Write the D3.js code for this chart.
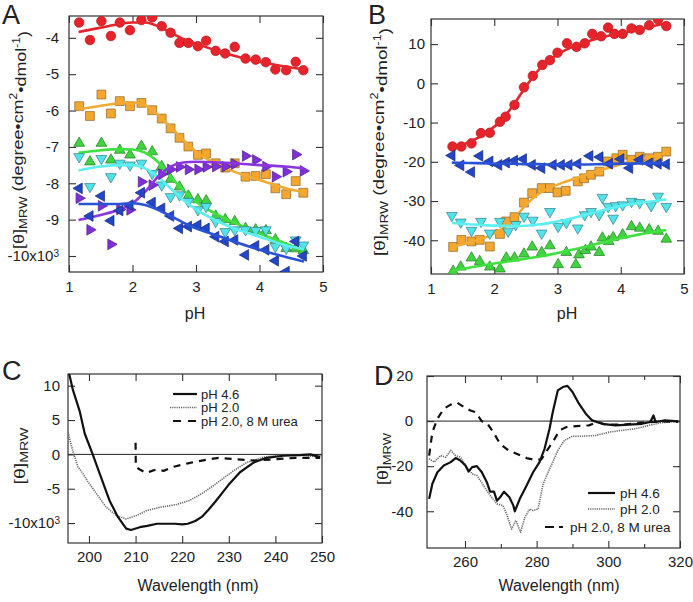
<!DOCTYPE html>
<html>
<head>
<meta charset="utf-8">
<script src="https://cdn.jsdelivr.net/npm/d3@7"></script>
<style>
  body { margin: 0; background: #fff; }
  svg text { font-family: "Liberation Sans", Arial, sans-serif; fill: #222; }
</style>
</head>
<body>
<svg id="fig" width="693" height="602"></svg>
<script>
/* ---------- Panel A: far-UV signal vs pH ---------- */
var phA = [1.16, 1.33, 1.51, 1.66, 1.80, 1.96, 2.14, 2.31, 2.46, 2.60, 2.74, 2.88,
           3.03, 3.16, 3.31, 3.46, 3.61, 3.78, 3.94, 4.10, 4.25, 4.42, 4.57, 4.69];
var aRed    = [-3.58, -4.06, -3.54, -3.95, -3.58, -3.79, -3.51, -3.44, -3.68, -3.86, -4.14, -4.14,
               -4.23, -4.08, -4.36, -4.43, -4.25, -4.57, -4.60, -4.67, -4.87, -4.89, -4.66, -4.89];
var aOrange = [-5.88, -6.15, -5.56, -6.08, -5.74, -5.88, -5.79, -5.99, -6.22, -6.49, -6.75, -6.99,
               -7.22, -7.18, -7.45, -7.57, -7.45, -7.82, -7.80, -7.75, -8.14, -8.30, -7.94, -8.26];
var aGreen  = [-6.90, -7.41, -6.90, -7.36, -7.09, -7.22, -6.98, -7.13, -7.54, -7.89, -8.10, -8.35,
               -8.45, -8.48, -8.90, -9.00, -9.05, -9.24, -9.28, -9.30, -9.55, -9.79, -9.80, -9.85];
var aCyan   = [-7.27, -8.09, -7.32, -7.82, -7.45, -7.50, -7.45, -7.73, -8.05, -8.37, -8.32, -8.50,
               -8.73, -8.64, -9.05, -9.33, -9.28, -9.28, -9.30, -9.28, -9.74, -9.79, -9.56, -9.70];
var aPurple = [-8.41, -9.28, -8.62, -9.68, -8.72, -8.73, -7.96, -8.05, -7.75, -7.62, -7.55, -7.62,
               -7.62, -7.55, -7.54, -7.54, -7.47, -7.25, -7.36, -7.54, -7.82, -7.68, -7.21, -7.66];
var aBlue   = [-8.14, -8.90, -8.35, -9.03, -8.75, -8.60, -8.26, -8.53, -8.69, -8.90, -9.24, -9.19,
               -9.15, -9.24, -9.47, -9.60, -9.56, -9.97, -9.72, -9.83, -10.13, -10.43, -9.60, -10.00];

var fitPhA = [1.15, 1.5, 1.8, 2.0, 2.2, 2.4, 2.6, 2.8, 3.0, 3.3, 3.6, 4.0, 4.4, 4.7];
var aRedFit    = [-3.84, -3.72, -3.62, -3.58, -3.58, -3.68, -3.86, -4.03, -4.16, -4.34, -4.49, -4.66, -4.79, -4.87];
var aOrangeFit = [-5.97, -5.87, -5.80, -5.78, -5.85, -6.12, -6.45, -6.81, -7.13, -7.45, -7.68, -7.91, -8.13, -8.25];
var aGreenFit  = [-7.16, -7.09, -7.06, -7.07, -7.16, -7.41, -7.82, -8.19, -8.51, -8.83, -9.08, -9.38, -9.65, -9.85];
var aCyanFit   = [-7.65, -7.54, -7.50, -7.50, -7.59, -7.82, -8.14, -8.46, -8.72, -9.01, -9.24, -9.47, -9.70, -9.82];
var aPurpleFit = [-9.01, -8.87, -8.72, -8.55, -8.23, -7.82, -7.54, -7.43, -7.41, -7.42, -7.45, -7.50, -7.54, -7.59];
var aBlueFit   = [-8.57, -8.57, -8.57, -8.55, -8.60, -8.73, -8.90, -9.08, -9.24, -9.42, -9.60, -9.83, -10.02, -10.15];

/* ---------- Panel B: near-UV signal vs pH ---------- */
var bRedPh = [1.34, 1.48, 1.64, 1.79, 1.93, 2.09, 2.18, 2.32, 2.47, 2.61, 2.76, 2.88, 3.00,
              3.15, 3.30, 3.43, 3.55, 3.69, 3.80, 3.90, 4.03, 4.17, 4.30, 4.45, 4.59, 4.72];
var bRed   = [-16.1, -16.1, -15.3, -12.7, -12.6, -9.8, -8.5, -5.5, -1.0, 1.9, 4.7, 5.9, 7.8,
              10.2, 9.3, 10.2, 12.6, 12.0, 14.2, 12.6, 12.6, 14.0, 13.6, 14.8, 16.3, 14.6];
var bBluePh = [1.33, 1.47, 1.64, 1.77, 1.93, 2.07, 2.19, 2.32, 2.46, 2.60, 2.75, 2.93,
               3.06, 3.18, 3.32, 3.51, 3.67, 3.82, 4.00, 4.14, 4.30, 4.45, 4.59, 4.72];
var bBlue   = [-18.4, -20.9, -22.6, -18.5, -19.9, -20.8, -20.2, -19.7, -19.3, -20.8, -21.6, -20.8,
               -20.8, -20.8, -20.5, -18.5, -18.8, -20.5, -19.3, -21.6, -19.5, -20.4, -20.5, -20.6];
var bOrangePh = [1.35, 1.48, 1.64, 1.77, 1.93, 2.09, 2.19, 2.32, 2.47, 2.60, 2.75, 2.88, 3.00,
                 3.13, 3.32, 3.42, 3.53, 3.66, 3.80, 3.93, 4.03, 4.17, 4.30, 4.45, 4.59, 4.72];
var bOrange   = [-41.7, -39.9, -40.3, -39.9, -41.6, -38.4, -35.2, -34.1, -30.4, -28.0, -26.7, -26.7, -27.8,
                 -27.4, -25.0, -24.2, -23.3, -22.5, -19.9, -19.1, -18.2, -19.5, -18.7, -19.1, -18.7, -17.4];
var bCyanPh = [1.33, 1.47, 1.64, 1.79, 1.93, 2.09, 2.22, 2.34, 2.47, 2.61, 2.75, 2.88, 3.01, 3.14,
               3.32, 3.43, 3.53, 3.66, 3.71, 3.80, 3.88, 3.92, 4.03, 4.17, 4.30, 4.48, 4.59, 4.72];
var bCyan   = [-33.7, -35.4, -37.5, -35.2, -38.2, -35.2, -37.7, -36.0, -33.9, -34.9, -38.2, -32.7, -36.5, -35.5,
               -36.9, -33.5, -32.7, -33.5, -29.1, -31.4, -34.4, -31.2, -31.0, -30.1, -30.4, -31.2, -28.8, -31.4];
var bGreenPh = [1.35, 1.47, 1.64, 1.77, 1.93, 2.09, 2.19, 2.32, 2.47, 2.60, 2.75, 2.88, 3.01, 3.14,
                3.29, 3.34, 3.44, 3.53, 3.66, 3.71, 3.81, 3.88, 4.03, 4.17, 4.30, 4.45, 4.59, 4.72];
var bGreen   = [-47.9, -46.8, -44.5, -45.4, -46.8, -47.3, -44.5, -44.5, -43.5, -41.7, -43.1, -41.4, -46.2, -43.1,
                -46.2, -43.7, -42.6, -41.7, -43.1, -39.4, -40.3, -39.3, -38.6, -36.5, -36.9, -37.3, -37.7, -39.7];

var fitPhB = [1.33, 1.6, 1.9, 2.1, 2.3, 2.5, 2.7, 2.9, 3.1, 3.4, 3.7, 4.0, 4.3, 4.72];
var bRedFit    = [-16.5, -15.0, -12.3, -9.6, -5.6, -0.8, 3.4, 6.3, 8.3, 10.3, 11.7, 12.8, 13.8, 15.4];
var bBlueFit   = [-20.2, -20.3, -20.4, -20.5, -20.5, -20.6, -20.6, -20.7, -20.7, -20.7, -20.6, -20.5, -20.4, -20.3];
var bOrangeFit = [-41.7, -40.6, -39.0, -37.3, -34.7, -31.0, -28.2, -26.5, -25.2, -23.6, -22.0, -20.6, -19.3, -17.8];
var bCyanFit   = [-35.6, -35.9, -36.2, -36.3, -36.4, -36.3, -36.0, -35.5, -34.9, -33.7, -32.4, -31.3, -30.5, -29.6];
var bGreenFit  = [-47.8, -47.0, -46.2, -45.7, -45.2, -44.7, -44.2, -43.6, -42.9, -41.8, -40.6, -39.5, -38.5, -37.4];

/* ---------- Panel C: far-UV spectra ---------- */
var cWl46 = [195.5, 196.5, 198.0, 199.1, 200.8, 202.3, 204.4, 206.2, 208.0, 209.0, 210.9, 212.5, 214.6, 216.5,
             218.4, 220.0, 221.2, 222.8, 224.2, 225.6, 227.1, 228.6, 230.0, 232.4, 235.3, 238.1, 241.7, 245.3, 247.5, 249.6];
var c46   = [12.5, 9.5, 6.3, 3.0, 0.0, -2.8, -6.7, -9.1, -10.8, -11.0, -10.6, -10.4, -10.1, -10.1,
             -10.1, -10.2, -10.1, -9.7, -9.1, -8.1, -6.9, -5.6, -4.4, -2.6, -1.2, -0.5, -0.2, -0.1, 0.0, -0.4];
var cWl20 = [195.5, 195.9, 196.7, 197.6, 198.7, 199.8, 201.6, 203.7, 205.9, 208.0, 210.2, 212.3, 215.2,
             218.8, 221.6, 224.5, 227.4, 231.0, 233.8, 237.4, 241.7, 245.3, 249.6];
var c20   = [3.2, 2.1, 0.1, -1.8, -2.8, -4.0, -5.7, -7.7, -8.9, -9.4, -8.9, -8.2, -7.7,
             -7.3, -6.7, -5.6, -4.2, -2.4, -1.2, -0.4, -0.1, -0.1, -0.4];
var cWlUrea = [210.0, 210.05, 210.9, 212.3, 213.5, 214.5, 216.0, 218.2, 221.2, 224.2, 227.8, 231.4, 235.7, 240.1, 244.4, 249.6];
var cUrea   = [1.7, -1.8, -2.2, -2.7, -2.4, -2.2, -2.4, -1.8, -1.3, -0.9, -0.5, -0.7, -0.9, -0.7, -0.5, -0.5];

/* ---------- Panel D: near-UV spectra ---------- */
var dWl46 = [250.0, 250.9, 252.3, 254.1, 256.0, 257.4, 258.7, 260.1, 261.0, 262.0, 263.3, 264.7, 266.1, 267.0,
             268.1, 268.9, 269.8, 270.9, 272.4, 273.5, 273.9, 275.3, 277.2, 279.0, 280.8, 282.2, 283.6, 284.5,
             285.9, 287.3, 288.6, 290.0, 291.8, 293.7, 295.5, 298.3, 302.0, 305.7, 309.4, 311.7, 312.6, 313.2, 315.8, 319.5];
var d46   = [-34.5, -27.8, -22.7, -19.7, -18.2, -16.4, -17.5, -19.7, -22.4, -20.4, -20.0, -22.7, -27.1, -31.3,
             -31.3, -35.3, -33.8, -31.3, -33.8, -37.5, -40.0, -34.5, -28.6, -22.7, -18.2, -12.3, -3.4, 4.0,
             13.6, 15.1, 15.6, 12.9, 7.7, 3.3, 0.3, -1.2, -1.9, -1.6, -1.2, -0.4, 2.5, -0.4, 0.3, -0.1];
var dWl20 = [250.0, 251.4, 253.2, 254.6, 256.0, 257.4, 258.7, 260.6, 262.0, 263.3, 265.2, 267.0, 268.9, 270.6,
             271.6, 273.0, 274.2, 275.5, 276.7, 278.1, 279.0, 280.4, 281.8, 283.2, 284.5, 285.9, 287.7, 290.0,
             292.8, 296.5, 300.2, 303.9, 307.6, 311.3, 314.9, 319.5];
var d20   = [-16.7, -18.2, -15.3, -16.0, -13.0, -15.3, -16.0, -20.4, -23.4, -24.1, -28.6, -33.0, -36.7, -37.5,
             -41.2, -47.9, -44.1, -49.3, -42.7, -39.0, -39.7, -39.0, -27.9, -22.7, -18.2, -13.0, -8.6, -6.7,
             -6.7, -6.4, -4.9, -4.1, -3.4, -1.9, -0.7, -0.1];
var dWlUrea = [250.0, 250.9, 252.3, 254.1, 256.0, 257.8, 259.7, 261.5, 262.9, 264.7, 266.1, 267.9, 269.8, 272.1,
               274.4, 277.2, 279.5, 281.3, 283.2, 284.5, 286.4, 288.2, 291.0, 294.6, 297.0, 299.3, 303.9, 309.4, 314.9, 319.5];
var dUrea   = [-15.3, -4.9, 1.0, 5.5, 7.3, 8.2, 6.2, 4.7, 4.0, -0.1, -0.7, -4.9, -10.1, -13.0,
               -14.5, -16.4, -17.2, -17.0, -12.3, -9.3, -4.1, -2.7, -2.2, -1.9, -0.4, -1.6, -1.6, -0.7, -0.1, -0.4];

var legendLabels = ["pH 4.6", "pH 2.0", "pH 2.0, 8 M urea"];

/* ---------- colours ---------- */
var COL = {
    red:    {fill: "#e8222a", stroke: "#b0181e", line: "#e4262c"},
    orange: {fill: "#f4a72c", stroke: "#8a6a30", line: "#f2aa33"},
    green:  {fill: "#3ed43e", stroke: "#2a7a2a", line: "#3fe03f"},
    cyan:   {fill: "#4fe3ea", stroke: "#3a7d86", line: "#5df0f2"},
    purple: {fill: "#7f2fd8", stroke: "#4d1c8a", line: "#8a35e0"},
    blue:   {fill: "#2345c8", stroke: "#13287a", line: "#2a52d6"}
};

var svg = d3.select("#fig");

function zip(xs, ys) {
    return xs.map(function(d, i) { return [d, ys[i]]; });
}

// frame, inward ticks on all four sides, tick labels
function makePanel(o) {
    var x = d3.scaleLinear().domain(o.xDom).range([o.left, o.right]);
    var y = d3.scaleLinear().domain(o.yDom).range([o.bottom, o.top]);

    svg.append("clipPath").attr("id", "clip" + o.name)
        .append("rect")
        .attr("x", o.left).attr("y", o.top)
        .attr("width", o.right - o.left).attr("height", o.bottom - o.top);

    var xFmt = function(d) { return o.xLabels.indexOf(d) >= 0 ? d : ""; };

    var axB = svg.append("g").attr("transform", "translate(0," + o.bottom + ")")
        .call(d3.axisBottom(x).tickValues(o.xTicks).tickSize(-7).tickPadding(o.xPad).tickFormat(xFmt));
    var axT = svg.append("g").attr("transform", "translate(0," + o.top + ")")
        .call(d3.axisTop(x).tickValues(o.xTicks).tickSize(-7).tickFormat(""));
    var axL = svg.append("g").attr("transform", "translate(" + o.left + ",0)")
        .call(d3.axisLeft(y).tickValues(o.yTicks).tickSize(-7).tickPadding(o.yPad).tickFormat(o.yFmt || function(d) { return d; }));
    var axR = svg.append("g").attr("transform", "translate(" + o.right + ",0)")
        .call(d3.axisRight(y).tickValues(o.yTicks).tickSize(-7).tickFormat(""));

    [axB, axT, axL, axR].forEach(function(a) {
        a.select(".domain").remove();
        a.selectAll(".tick line").attr("stroke", "#333").attr("stroke-width", 1.1);
        a.selectAll("text").attr("font-size", 15).attr("fill", "#222")
            .style("font-family", "'Liberation Sans', Arial, sans-serif");
    });

    // shorter minor ticks (unlabelled ones)
    [axB, axT].forEach(function(a) {
        a.selectAll(".tick line").filter(function(d) { return o.xLabels.indexOf(d) < 0; })
            .attr("y2", a === axB ? -4 : 4);
    });

    // "-10x10^3" style label
    if (o.expTick !== undefined) {
        var t = axL.selectAll(".tick text").filter(function(d) { return d === o.expTick; });
        t.text(o.expTick + "x10");
        t.append("tspan").attr("dy", "-0.45em").attr("font-size", 10).text("3");
    }

    svg.append("rect")
        .attr("x", o.left).attr("y", o.top)
        .attr("width", o.right - o.left).attr("height", o.bottom - o.top)
        .attr("fill", "none").attr("stroke", "#333").attr("stroke-width", 1.2);

    var plot = svg.append("g").attr("clip-path", "url(#clip" + o.name + ")");
    return {x: x, y: y, plot: plot};
}

var symbolFor = {
    circle:   {type: d3.symbolCircle,   size: 72, rot: 0},
    square:   {type: d3.symbolSquare,   size: 78, rot: 0},
    up:       {type: d3.symbolTriangle, size: 50, rot: 0},
    down:     {type: d3.symbolTriangle, size: 50, rot: 180},
    left:     {type: d3.symbolTriangle, size: 50, rot: -90},
    right:    {type: d3.symbolTriangle, size: 50, rot: 90}
};

function drawSeries(p, xs, ys, fitXs, fitYs, col, shape) {
    var line = d3.line()
        .x(function(d) { return p.x(d[0]); })
        .y(function(d) { return p.y(d[1]); })
        .curve(d3.curveMonotoneX);

    var s = symbolFor[shape];
    p.plot.selectAll(null)
        .data(zip(xs, ys))
        .enter().append("path")
        .attr("d", d3.symbol().type(s.type).size(s.size))
        .attr("transform", function(d) {
            return "translate(" + p.x(d[0]) + "," + p.y(d[1]) + ") rotate(" + s.rot + ")";
        })
        .attr("fill", col.fill)
        .attr("stroke", col.stroke)
        .attr("stroke-width", 0.7);

    p.plot.append("path")
        .datum(zip(fitXs, fitYs))
        .attr("d", line)
        .attr("fill", "none")
        .attr("stroke", col.line)
        .attr("stroke-width", 2.6);
}

var spectrumStyles = [
    {width: 2.2, color: "#111", dash: null},
    {width: 1.6, color: "#666", dash: "1.2,1"},
    {width: 2.2, color: "#111", dash: "7,6"}
];

function drawSpectrum(p, xs, ys, st) {
    var line = d3.line()
        .x(function(d) { return p.x(d[0]); })
        .y(function(d) { return p.y(d[1]); });
    p.plot.append("path")
        .datum(zip(xs, ys))
        .attr("d", line)
        .attr("fill", "none")
        .attr("stroke", st.color)
        .attr("stroke-width", st.width)
        .attr("stroke-dasharray", st.dash)
        .attr("stroke-linejoin", "round");
}

function zeroLine(p) {
    var d = p.x.domain();
    p.plot.append("line")
        .attr("x1", p.x(d[0])).attr("x2", p.x(d[1]))
        .attr("y1", p.y(0)).attr("y2", p.y(0))
        .attr("stroke", "#222").attr("stroke-width", 1);
}

// rotated y label "[θ]MRW (...)", stretched to the length seen in the figure
function yLabel(cx, cy, length, withUnits) {
    var g = svg.append("g");
    var t = g.append("text").attr("text-anchor", "middle").attr("font-size", 15);
    t.append("tspan").text("[\u03b8]");
    t.append("tspan").attr("font-size", 11).attr("dy", "0.25em").text("MRW");
    if (withUnits) {
        t.append("tspan").attr("dy", "-0.25em").text(" (degree\u2022cm");
        t.append("tspan").attr("font-size", 10).attr("dy", "-0.6em").text("2");
        t.append("tspan").attr("dy", "0.6em").text("\u2022dmol");
        t.append("tspan").attr("font-size", 10).attr("dy", "-0.6em").text("-1");
        t.append("tspan").attr("dy", "0.6em").text(")");
    }
    var w = t.node().getComputedTextLength();
    g.attr("transform", "translate(" + cx + "," + cy + ") rotate(-90) scale(" + (length / w) + ",1)");
}

function title(x, y, txt, size) {
    svg.append("text").attr("x", x).attr("y", y)
        .attr("text-anchor", "middle").attr("font-size", size || 16).text(txt);
}

function panelLetter(x, y, txt) {
    svg.append("text").attr("x", x).attr("y", y).attr("font-size", 27).text(txt);
}

/* ---------- Panel A ---------- */
var pA = makePanel({
    name: "A", left: 69, right: 323, top: 16, bottom: 272,
    xDom: [1, 5], yDom: [-10.44, -3.40],
    xTicks: [1, 2, 3, 4, 5], xLabels: [1, 2, 3, 4, 5], xPad: 9,
    yTicks: [-10, -9, -8, -7, -6, -5, -4], yPad: 10, expTick: -10
});
drawSeries(pA, phA, aRed, fitPhA, aRedFit, COL.red, "circle");
drawSeries(pA, phA, aOrange, fitPhA, aOrangeFit, COL.orange, "square");
drawSeries(pA, phA, aGreen, fitPhA, aGreenFit, COL.green, "up");
drawSeries(pA, phA, aCyan, fitPhA, aCyanFit, COL.cyan, "down");
drawSeries(pA, phA, aPurple, fitPhA, aPurpleFit, COL.purple, "right");
drawSeries(pA, phA, aBlue, fitPhA, aBlueFit, COL.blue, "left");
yLabel(24, 140, 218, true);
title(195, 319, "pH");
panelLetter(2, 24, "A");

/* ---------- Panel B ---------- */
var pB = makePanel({
    name: "B", left: 431, right: 684, top: 19, bottom: 274,
    xDom: [1, 5], yDom: [-48.6, 16.4],
    xTicks: [1, 2, 3, 4, 5], xLabels: [1, 2, 3, 4, 5], xPad: 9,
    yTicks: [-40, -30, -20, -10, 0, 10], yPad: 6
});
drawSeries(pB, bRedPh, bRed, fitPhB, bRedFit, COL.red, "circle");
drawSeries(pB, bOrangePh, bOrange, fitPhB, bOrangeFit, COL.orange, "square");
drawSeries(pB, bCyanPh, bCyan, fitPhB, bCyanFit, COL.cyan, "down");
drawSeries(pB, bGreenPh, bGreen, fitPhB, bGreenFit, COL.green, "up");
drawSeries(pB, bBluePh, bBlue, fitPhB, bBlueFit, COL.blue, "left");
yLabel(385, 142, 228, true);
title(567, 319, "pH");
panelLetter(368, 24, "B");

/* ---------- Panel C ---------- */
var pC = makePanel({
    name: "C", left: 68, right: 322, top: 374, bottom: 543,
    xDom: [195.5, 250], yDom: [-12.9, 11.7],
    xTicks: [200, 210, 220, 230, 240, 250], xLabels: [200, 210, 220, 230, 240, 250], xPad: 8,
    yTicks: [-10, -5, 0, 5, 10], yPad: 8, expTick: -10
});
zeroLine(pC);
drawSpectrum(pC, cWl20, c20, spectrumStyles[1]);
drawSpectrum(pC, cWlUrea, cUrea, spectrumStyles[2]);
drawSpectrum(pC, cWl46, c46, spectrumStyles[0]);
yLabel(25, 456, 57, false);
title(198, 591, "Wavelength (nm)");
panelLetter(2, 380, "C");

// legend C: samples on the left, text left-aligned
var legC = svg.append("g");
legendLabels.forEach(function(lab, i) {
    var yy = 394 + i * 13.5;
    var st = spectrumStyles[i];
    legC.append("line").attr("x1", i === 1 ? 170 : 173).attr("x2", 197)
        .attr("y1", yy).attr("y2", yy)
        .attr("stroke", st.color).attr("stroke-width", st.width)
        .attr("stroke-dasharray", i === 2 ? "8,7" : st.dash);
    legC.append("text").attr("x", 201).attr("y", yy + 4.5).attr("font-size", 13).text(lab);
});

/* ---------- Panel D ---------- */
var pD = makePanel({
    name: "D", left: 427, right: 680, top: 376, bottom: 548,
    xDom: [249.4, 320], yDom: [-56.3, 20],
    xTicks: [260, 270, 280, 290, 300, 310, 320], xLabels: [260, 280, 300, 320], xPad: 8,
    yTicks: [-40, -20, 0, 20], yPad: 14
});
zeroLine(pD);
drawSpectrum(pD, dWl20, d20, spectrumStyles[1]);
drawSpectrum(pD, dWlUrea, dUrea, spectrumStyles[2]);
drawSpectrum(pD, dWl46, d46, spectrumStyles[0]);
yLabel(388, 459, 52, false);
title(559, 591, "Wavelength (nm)");
panelLetter(374, 385, "D");

// legend D: rows placed as in the figure (sample start, sample end, text start, row y)
var legDx1 = [588, 588, 545];
var legDx2 = [615, 615, 566];
var legDtx = [620, 620, 570];
var legDy  = [493, 509, 527];
var legD = svg.append("g");
legendLabels.forEach(function(lab, i) {
    var st = spectrumStyles[i];
    legD.append("line").attr("x1", legDx1[i]).attr("x2", legDx2[i])
        .attr("y1", legDy[i]).attr("y2", legDy[i])
        .attr("stroke", st.color).attr("stroke-width", st.width)
        .attr("stroke-dasharray", i === 2 ? "9,5,4" : st.dash);
    legD.append("text").attr("x", legDtx[i]).attr("y", legDy[i] + 4.5)
        .attr("font-size", 13.5).text(lab);
});
</script>
</body>
</html>
